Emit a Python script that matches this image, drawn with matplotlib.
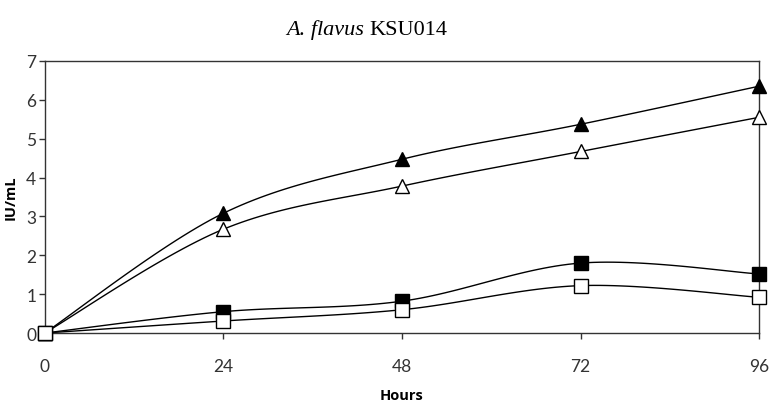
import numpy as np
import matplotlib
matplotlib.use("Agg")
import matplotlib.pyplot as plt

hours = [0, 24, 48, 72, 96]
tri_filled = [0, 3.08, 4.47, 5.37, 6.35]
tri_open = [0, 2.67, 3.78, 4.67, 5.55]
sq_filled = [0, 0.55, 0.82, 1.8, 1.52]
sq_open = [0, 0.31, 0.6, 1.22, 0.92]
yticks = [0, 1, 2, 3, 4, 5, 6, 7]


def smooth(x, y, n=30):
    # Catmull-Rom style curve through the points, like Excel's smoothed line
    x = np.asarray(x, float)
    y = np.asarray(y, float)
    px = np.concatenate([[x[0]], x, [x[-1]]])
    py = np.concatenate([[y[0]], y, [y[-1]]])
    xs, ys = [], []
    t = np.linspace(0, 1, n)
    for i in range(1, len(px) - 2):
        p0, p1, p2, p3 = [np.array([px[j], py[j]]) for j in (i - 1, i, i + 1, i + 2)]
        c1 = p1 + (p2 - p0) / 6
        c2 = p2 - (p3 - p1) / 6
        b = ((1 - t) ** 3)[:, None] * p1 + (3 * (1 - t) ** 2 * t)[:, None] * c1 \
            + (3 * (1 - t) * t ** 2)[:, None] * c2 + (t ** 3)[:, None] * p2
        xs.extend(b[:, 0])
        ys.extend(b[:, 1])
    return xs, ys


fig = plt.figure(figsize=(7.7, 4.02), dpi=100)
ax = fig.add_axes([0.058, 0.169, 0.928, 0.677])

series = [
    (tri_filled, '^', 'black'),
    (tri_open, '^', 'white'),
    (sq_filled, 's', 'black'),
    (sq_open, 's', 'white'),
]
for vals, mk, fc in series:
    sx, sy = smooth(hours, vals)
    ax.plot(sx, sy, color='black', lw=1.0, zorder=2)
    ax.plot(hours, vals, linestyle='none', marker=mk, markersize=10,
            markerfacecolor=fc, markeredgecolor='black', markeredgewidth=1.0,
            zorder=3, clip_on=False)

ax.set_xlim(0, 96)
ax.set_ylim(0, 7)
ax.set_xticks(hours)
ax.set_yticks(yticks)
ax.tick_params(direction='out', length=4, width=1, labelsize=12.5, colors='#333333',
               labelcolor='#333333')
for lbl in ax.get_xticklabels() + ax.get_yticklabels():
    lbl.set_family('Lato')
ax.tick_params(axis='x', pad=14)
ax.tick_params(axis='y', pad=2)
for s in ax.spines.values():
    s.set_linewidth(1.0)
    s.set_color('#333333')

ax.set_xlabel('Hours', fontsize=10.5, fontweight='bold', family='Open Sans', labelpad=10)
ax.set_ylabel('IU/mL', fontsize=10.5, fontweight='bold', family='Open Sans', labelpad=6)

# title: italic species name followed by upright strain code
t1 = fig.text(0.372, 0.925, 'A. flavus', ha='left', va='center',
              fontsize=16, family='Liberation Serif', style='italic')
ax.annotate('KSU014', xy=(1, 0.5), xycoords=t1, xytext=(4, 0),
            textcoords='offset points', ha='left', va='center',
            fontsize=16, family='Liberation Serif', annotation_clip=False)

fig.savefig('out.png', dpi=100)
